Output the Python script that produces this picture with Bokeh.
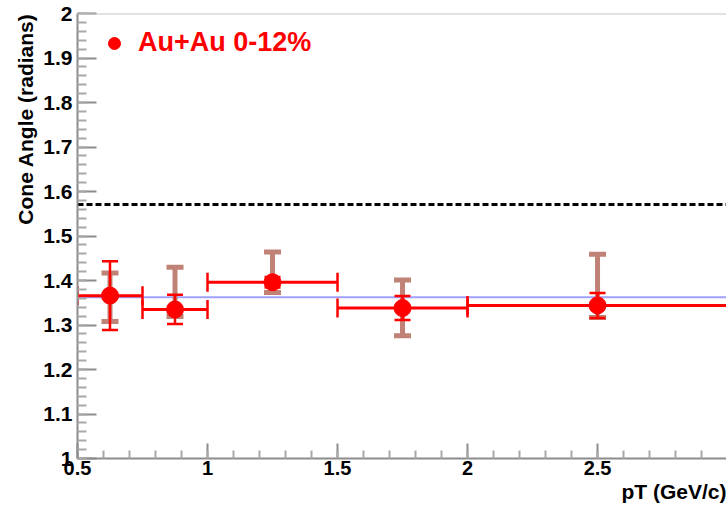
import numpy as np
from bokeh.plotting import figure
from bokeh.models import (ColumnDataSource, Whisker, TeeHead, Span, Title, Legend,
                          LegendItem, SingleIntervalTicker, CustomJSTickFormatter, Range1d)
from bokeh.embed import file_html
from bokeh.resources import INLINE

# pT bins (GeV/c) and measured cone angle (radians), Au+Au 0-12%
pt_center = [0.625, 0.875, 1.25, 1.75, 2.5]
pt_low = [0.5, 0.75, 1.0, 1.5, 2.0]
pt_high = [0.75, 1.0, 1.5, 2.0, 3.0]
cone_angle = [1.366, 1.335, 1.396, 1.338, 1.344]
stat_err = [0.077, 0.033, 0.012, 0.027, 0.028]
sys_err_up = [0.051, 0.095, 0.068, 0.063, 0.115]
sys_err_down = [0.058, 0.016, 0.023, 0.062, 0.027]
fit_level = 1.3625          # constant fit across pT
half_pi = np.pi / 2         # reference level at pi/2

FONT = "Liberation Sans"
RED = "#ff0000"
BROWN = "#c08276"
AXIS_GRAY = "#8c8c8c"

ca = np.array(cone_angle)
src = ColumnDataSource(dict(
    x=pt_center, y=cone_angle, xlo=pt_low, xhi=pt_high,
    stat_lo=ca - np.array(stat_err), stat_hi=ca + np.array(stat_err),
    sys_lo=ca - np.array(sys_err_down), sys_hi=ca + np.array(sys_err_up),
))

p = figure(width=726, height=506, x_range=Range1d(0.5, 2.996), y_range=Range1d(1.0, 2.0),
           output_backend="svg", toolbar_location=None,
           min_border_left=77, min_border_right=0, min_border_top=13, min_border_bottom=48)
p.grid.visible = False
p.outline_line_color = None
p.background_fill_color = "white"

fmt = CustomJSTickFormatter(code="return String(Number(tick.toFixed(2)));")
p.xaxis.ticker = SingleIntervalTicker(interval=0.5, num_minor_ticks=5)
p.yaxis.ticker = SingleIntervalTicker(interval=0.1, num_minor_ticks=5)
for ax in (p.xaxis[0], p.yaxis[0]):
    ax.formatter = fmt
    ax.axis_line_color = AXIS_GRAY
    ax.axis_line_width = 2
    ax.major_tick_line_color = AXIS_GRAY
    ax.major_tick_line_width = 2
    ax.minor_tick_line_color = "#a8a8a8"
    ax.minor_tick_line_width = 2
    ax.major_tick_out = 0
    ax.minor_tick_out = 0
    ax.major_label_text_font = FONT
    ax.major_label_text_font_style = "bold"
    ax.major_label_text_color = "black"
p.xaxis.major_label_text_font_size = "20px"
p.yaxis.major_label_text_font_size = "21px"
p.xaxis.major_tick_in = 15
p.xaxis.minor_tick_in = 8
p.xaxis.major_label_standoff = 2
p.yaxis.major_tick_in = 19
p.yaxis.minor_tick_in = 9
p.yaxis.major_label_standoff = 5

# axis titles, both aligned to the far end of their axis
p.add_layout(Title(text="Cone Angle (radians)", align="right", text_font=FONT,
                   text_font_style="bold", text_font_size="21px", text_color="black",
                   standoff=8, offset=0), "left")
p.add_layout(Title(text="pT (GeV/c)", align="right", text_font=FONT,
                   text_font_style="bold", text_font_size="21px", text_color="black",
                   standoff=0, offset=0), "below")

# top edge of the frame
p.add_layout(Span(location=2.0, dimension="width", line_color="#c4c4c4", line_width=2))

# reference levels
p.add_layout(Span(location=half_pi, dimension="width", line_color="black",
                  line_width=3, line_dash="6 3", level="underlay"))
p.add_layout(Span(location=fit_level, dimension="width", line_color="#a0a0ff",
                  line_width=2, level="underlay"))

# systematic uncertainties
p.add_layout(Whisker(source=src, base="x", lower="sys_lo", upper="sys_hi", dimension="height",
                     line_color=BROWN, line_width=5, level="underlay",
                     upper_head=TeeHead(size=17, line_color=BROWN, line_width=5),
                     lower_head=TeeHead(size=17, line_color=BROWN, line_width=5)))
# statistical uncertainties
p.add_layout(Whisker(source=src, base="x", lower="stat_lo", upper="stat_hi", dimension="height",
                     line_color=RED, line_width=2.5, level="underlay",
                     upper_head=TeeHead(size=16, line_color=RED, line_width=2.5),
                     lower_head=TeeHead(size=16, line_color=RED, line_width=2.5)))
# pT bin widths
p.add_layout(Whisker(source=src, base="y", lower="xlo", upper="xhi", dimension="width",
                     line_color=RED, line_width=3, level="underlay",
                     upper_head=TeeHead(size=19, line_color=RED, line_width=2.5),
                     lower_head=TeeHead(size=19, line_color=RED, line_width=2.5)))

markers = p.scatter("x", "y", source=src, size=17, fill_color=RED, line_color=RED)

legend = Legend(items=[LegendItem(label="Au+Au 0-12%", renderers=[markers])],
                location=(22, 400), padding=0, margin=0, spacing=0,
                glyph_width=30, glyph_height=30, label_height=30, label_standoff=9,
                label_text_font=FONT, label_text_font_style="bold",
                label_text_font_size="27px", label_text_color=RED,
                border_line_color=None, background_fill_alpha=0)
p.add_layout(legend)

open("out.html", "w").write(file_html(p, INLINE))
